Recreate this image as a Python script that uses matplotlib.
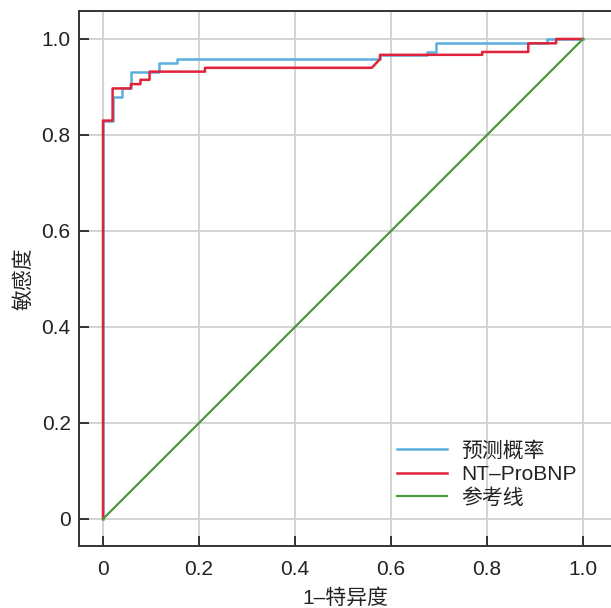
import matplotlib
matplotlib.use("Agg")
import matplotlib.pyplot as plt

# ROC 曲线数据
pred_fpr = [0, 0, 0.020, 0.020, 0.039, 0.039, 0.058, 0.058, 0.117, 0.117, 0.155, 0.155,
            0.577, 0.577, 0.674, 0.674, 0.694, 0.694, 0.926, 0.926, 1.0]
pred_tpr = [0, 0.830, 0.830, 0.880, 0.880, 0.897, 0.897, 0.932, 0.932, 0.949, 0.949, 0.958,
            0.958, 0.967, 0.967, 0.973, 0.973, 0.991, 0.991, 1.0, 1.0]

nt_fpr = [0, 0, 0.020, 0.020, 0.058, 0.058, 0.078, 0.078, 0.097, 0.097, 0.2125, 0.2125,
          0.560, 0.577, 0.577, 0.790, 0.790, 0.886, 0.886, 0.944, 0.944, 1.0]
nt_tpr = [0, 0.830, 0.830, 0.897, 0.897, 0.906, 0.906, 0.915, 0.915, 0.932, 0.932, 0.940,
          0.940, 0.958, 0.967, 0.967, 0.973, 0.973, 0.991, 0.991, 1.0, 1.0]

ref_x = [0, 1]
ref_y = [0, 1]

ticks = [0, 0.2, 0.4, 0.6, 0.8, 1.0]
tick_labels = ["0", "0.2", "0.4", "0.6", "0.8", "1.0"]

fam = ["Liberation Sans", "Noto Sans CJK SC", "DejaVu Sans"]
plt.rcParams["font.family"] = fam

fig = plt.figure(figsize=(6.11, 6.08), dpi=100)
ax = fig.add_axes([0.1293, 0.102, 0.8707, 0.8799])

ax.plot(pred_fpr, pred_tpr, color="#5aaee0", lw=1.8, label="预测概率")
ax.plot(nt_fpr, nt_tpr, color="#e0233a", lw=1.8, label="NT–ProBNP")
ax.plot(ref_x, ref_y, color="#4a9a3c", lw=1.6, label="参考线")

ax.set_xlim(-0.05, 1.0583)
ax.set_ylim(-0.05625, 1.0583)
ax.set_xticks(ticks)
ax.set_xticklabels(tick_labels)
ax.set_yticks(ticks)
ax.set_yticklabels(tick_labels)
ax.grid(True, color="#d0d0d0", lw=1.3)
ax.set_axisbelow(True)

ax.spines["right"].set_visible(False)
for s in ["left", "bottom", "top"]:
    ax.spines[s].set_color("#333333")
    ax.spines[s].set_linewidth(1.4)

ax.tick_params(direction="in", length=7, width=1.4, color="#333333",
               labelsize=15, labelcolor="#222222")
ax.tick_params(axis="x", pad=10)
ax.tick_params(axis="y", pad=6)

ax.set_xlabel("1–特异度", fontsize=15, color="#222222", labelpad=7)
ax.set_ylabel("敏感度", fontsize=15, color="#222222", labelpad=6)

leg = ax.legend(loc="lower right", bbox_to_anchor=(0.951, 0.056), borderaxespad=0,
                frameon=False, fontsize=15, handlelength=2.4, handletextpad=0.67,
                labelspacing=0.2)
for t in leg.get_texts():
    t.set_color("#222222")

fig.savefig("out.png", dpi=100)
